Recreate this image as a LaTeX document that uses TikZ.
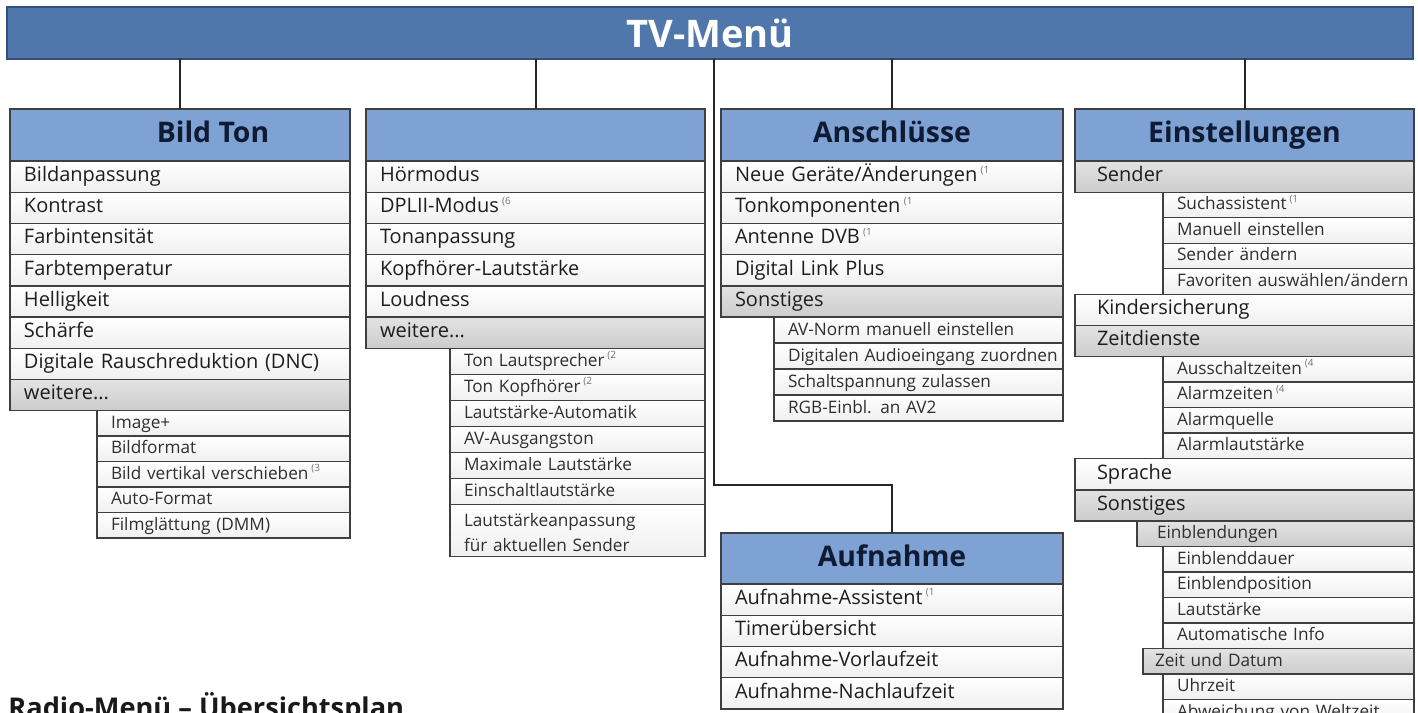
\documentclass[tikz,border=0pt]{standalone}
\usepackage{fontspec}
\setmainfont{Open Sans}
\usetikzlibrary{positioning}

\definecolor{barblue}{HTML}{4F77AB}
\definecolor{barline}{HTML}{34507A}
\definecolor{headblue}{HTML}{7EA2D3}
\definecolor{headtext}{HTML}{0F1A33}
\definecolor{rowline}{HTML}{3F3F3F}
\definecolor{itemtext}{HTML}{1E1E1E}
\definecolor{subtext}{HTML}{2F2F2F}

\newcommand{\supnote}[1]{\,\raisebox{0.8ex}{\fontsize{5}{5}\selectfont\color{black!55}(#1}}

\tikzset{
  row indent/.store in=\rowindent,
  row indent=7pt,
  rowbase/.style={draw=rowline, line width=0.7pt, outer sep=0pt, anchor=north west,
    inner xsep=0pt, inner ysep=0pt, align=left,
    execute at begin node={\noindent\strut\hspace*{\rowindent}}},
  item/.style={rowbase, text width=#1, minimum height=15.6pt, text=itemtext,
    font=\fontsize{10}{12}\selectfont, top color=white, bottom color=black!6},
  greyitem/.style={item=#1, top color=black!11, bottom color=black!20},
  subitem/.style={item=#1, minimum height=12.75pt, text=subtext,
    font=\fontsize{8.6}{12.5}\selectfont},
  greysub/.style={subitem=#1, top color=black!11, bottom color=black!20},
  headbox/.style={draw=rowline, line width=0.7pt, outer sep=0pt, anchor=north west,
    fill=headblue, minimum width=#1, minimum height=26pt, inner sep=0pt,
    text height=10.3pt, text depth=2.6pt, text=headtext,
    font=\bfseries\fontsize{14.2}{17}\selectfont},
  headlabel/.style={inner sep=0pt, text height=10.3pt, text depth=2.6pt, text=headtext,
    font=\bfseries\fontsize{14.2}{17}\selectfont},
  menubar/.style={draw=barline, line width=0.7pt, outer sep=0pt, anchor=north west,
    fill=barblue, minimum width=703pt, minimum height=26pt, text=white,
    font=\bfseries\fontsize{19}{22}\selectfont},
  conn/.style={draw=black!85, line width=1pt},
  plantitle/.style={anchor=base west, inner sep=0pt, text=black!90,
    font=\bfseries\fontsize{13.6}{16}\selectfont}
}

\begin{document}
\begin{tikzpicture}[x=0.5pt,y=-0.5pt]
  \useasboundingbox (0,0) rectangle (1418,712);
  \clip (0,0) rectangle (1418,712);

  \node[menubar] (tv) at (7,7) {TV-Menü};

  % Bild Ton
  \node[headbox=170pt] (bt) at (10,109) {};
  \node[headlabel] (bttitle) at (213,135) {Bild Ton};
  \foreach \t [count=\i from 0] in {Bildanpassung,Kontrast,Farbintensität,Farbtemperatur,Helligkeit,Schärfe,Digitale Rauschreduktion (DNC)}
    \node[item=170pt] (bt\i) at (10,{161+31.2*\i}) {\t};
  \node[greyitem=170pt] (btmore) at (10,379.4) {weitere...};
  \foreach \t [count=\i from 0] in {Image+,Bildformat,Bild vertikal verschieben\supnote{3},Auto-Format,Filmglättung (DMM)}
    \node[subitem=126.5pt] (bts\i) at (97,{410.6+25.5*\i}) {\t};

  % Ton
  \node[headbox=169.5pt] (tn) at (366,109) {};
  \foreach \t [count=\i from 0] in {Hörmodus,DPLII-Modus\supnote{6},Tonanpassung,Kopfhörer-Lautstärke,Loudness}
    \node[item=169.5pt] (tn\i) at (366,{161+31.2*\i}) {\t};
  \node[greyitem=169.5pt] (tnmore) at (366,317) {weitere...};
  \foreach \t [count=\i from 0] in {Ton Lautsprecher\supnote{2},Ton Kopfhörer\supnote{2},Lautstärke-Automatik,AV-Ausgangston,Maximale Lautstärke,Einschaltlautstärke}
    \node[subitem=127.5pt, minimum height=13pt] (tns\i) at (450,{348.2+26*\i}) {\t};
  \node[subitem=127.5pt, minimum height=26.25pt] (tns6) at (450,504.2)
    {Lautstärkeanpassung\\\hspace*{\rowindent}für aktuellen Sender};

  % Anschluesse
  \node[headbox=171pt] (an) at (721,109) {Anschlüsse};
  \foreach \t [count=\i from 0] in {Neue Geräte/Änderungen\supnote{1},Tonkomponenten\supnote{1},Antenne DVB\supnote{1},Digital Link Plus}
    \node[item=171pt] (an\i) at (721,{161+31.2*\i}) {\t};
  \node[greyitem=171pt] (anmore) at (721,285.8) {Sonstiges};
  \foreach \t [count=\i from 0] in {AV-Norm manuell einstellen,Digitalen Audioeingang zuordnen,Schaltspannung zulassen,RGB-Einbl. an AV2}
    \node[subitem=144.5pt, minimum height=13pt] (ans\i) at (774,{317+26*\i}) {\t};

  % Aufnahme
  \node[headbox=171pt] (au) at (721,533) {Aufnahme};
  \foreach \t [count=\i from 0] in {Aufnahme-Assistent\supnote{1},Timerübersicht,Aufnahme-Vorlaufzeit,Aufnahme-Nachlaufzeit}
    \node[item=171pt] (au\i) at (721,{584+31.2*\i}) {\t};

  % Einstellungen
  \node[headbox=169.5pt] (ei) at (1075,109) {Einstellungen};
  \node[greyitem=169.5pt, row indent=11pt] (eisender) at (1075,161) {Sender};
  \foreach \t [count=\i from 0] in {Suchassistent\supnote{1},Manuell einstellen,Sender ändern,Favoriten auswählen/ändern}
    \node[subitem=125.5pt] (eis\i) at (1163,{192.2+25.5*\i}) {\t};
  \node[item=169.5pt, row indent=11pt] (eikind) at (1075,294.2) {Kindersicherung};
  \node[greyitem=169.5pt, row indent=11pt] (eizeit) at (1075,325.4) {Zeitdienste};
  \foreach \t [count=\i from 0] in {Ausschaltzeiten\supnote{4},Alarmzeiten\supnote{4},Alarmquelle,Alarmlautstärke}
    \node[subitem=125.5pt] (eiz\i) at (1163,{356.6+25.5*\i}) {\t};
  \node[item=169.5pt, row indent=11pt] (eisprache) at (1075,458.6) {Sprache};
  \node[greyitem=169.5pt, row indent=11pt] (eisonst) at (1075,489.8) {Sonstiges};
  \node[greysub=138.5pt, row indent=10pt] (eieinbl) at (1137,521) {Einblendungen};
  \foreach \t [count=\i from 0] in {Einblenddauer,Einblendposition,Lautstärke,Automatische Info}
    \node[subitem=125.5pt] (eie\i) at (1163,{546.5+25.5*\i}) {\t};
  \node[greysub=135.5pt, row indent=6pt] (eidatum) at (1143,648.5) {Zeit und Datum};
  \foreach \t [count=\i from 0] in {Uhrzeit,Abweichung von Weltzeit}
    \node[subitem=125.5pt] (eid\i) at (1163,{674+25.5*\i}) {\t};

  % Verbindungen
  \foreach \n in {bt,tn,an,ei}
    \draw[conn] (\n.north) -- (\n.north |- tv.south);
  \coordinate (aubend) at (714,485);
  \draw[conn] (tv.south -| aubend) -- (aubend) -| (au.north);

  \node[plantitle] (radio) at (8,717.5) {Radio-Menü – Übersichtsplan};
\end{tikzpicture}
\end{document}
